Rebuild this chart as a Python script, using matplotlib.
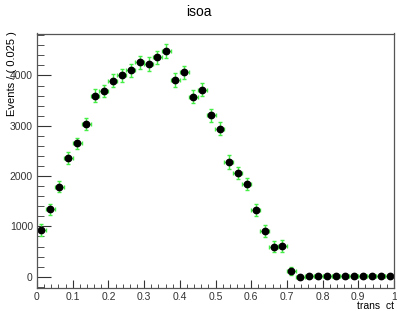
import numpy as np
import matplotlib.pyplot as plt
from matplotlib.ticker import MultipleLocator

plt.rcParams["font.family"] = ["Liberation Sans", "DejaVu Sans"]

# bin centres of the 40 bins (width 0.025) and their contents
bin_edges = np.linspace(0, 1, 41)
events = [920, 1340, 1790, 2360, 2650, 3040, 3600, 3690, 3900, 4000,
          4100, 4260, 4230, 4360, 4490, 3910, 4060, 3580, 3720, 3210,
          2940, 2280, 2060, 1840, 1330, 910, 600, 610, 110, 0,
          15, 12, 12, 12, 12, 12, 12, 12, 12, 12]
errors = [120, 115, 110, 110, 115, 120, 125, 125, 130, 130,
          130, 135, 135, 135, 140, 135, 135, 135, 135, 130,
          130, 130, 125, 125, 120, 120, 115, 115, 75, 20,
          25, 25, 25, 25, 25, 25, 25, 25, 25, 25]

centres = 0.5 * (bin_edges[:-1] + bin_edges[1:])
half_width = 0.0125

fig = plt.figure(figsize=(3.97, 3.11), dpi=100)
ax = fig.add_axes([37 / 397, 1 - 287.5 / 311, 357 / 397, 254 / 311])

ax.errorbar(centres, events, yerr=errors, xerr=half_width, fmt="o",
            color="black", markersize=4.6, ecolor="#44ee44",
            elinewidth=1.0, capsize=1.6, capthick=1.0)

ax.set_xlim(0, 1)
ax.set_ylim(-215, 4835)

ax.xaxis.set_minor_locator(MultipleLocator(0.02))
ax.yaxis.set_major_locator(MultipleLocator(1000))
ax.yaxis.set_minor_locator(MultipleLocator(200))
ax.set_xticks([0, 0.1, 0.2, 0.3, 0.4, 0.5, 0.6, 0.7, 0.8, 0.9, 1])
ax.set_xticklabels(["0", "0.1", "0.2", "0.3", "0.4", "0.5", "0.6", "0.7", "0.8", "0.9", "1"])

ax.tick_params(which="both", direction="in", top=False, right=False,
               labelsize=7.5, colors="#333333")
ax.tick_params(axis="y", which="major", length=10, pad=3)
ax.tick_params(axis="y", which="minor", length=5)
ax.tick_params(axis="x", which="major", length=6, pad=3)
ax.tick_params(axis="x", which="minor", length=3)
for s in ax.spines.values():
    s.set_color("#555555")
    s.set_linewidth(0.9)

fig.text(0.5, 1 - 12 / 311, "isoa", ha="center", va="center", fontsize=10)
fig.text(12 / 397, 1 - 31 / 311, "Events / ( 0.025 )", rotation=90,
         ha="center", va="top", fontsize=8)
fig.text(394 / 397, 1 - 306 / 311, "trans  ct", ha="right", va="center", fontsize=7.5)

fig.savefig("out.png", dpi=100)
